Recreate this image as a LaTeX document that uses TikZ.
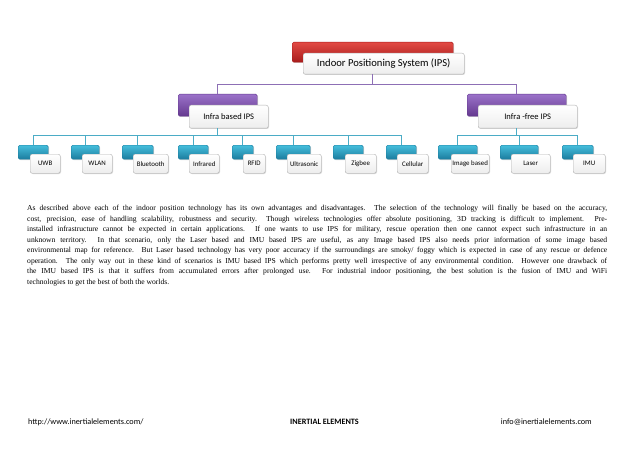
\documentclass[tikz,border=0pt]{standalone}
\usepackage{fontspec}
\setmainfont{Liberation Serif}
\newfontfamily\calib{Carlito}
\usetikzlibrary{shadows}
\definecolor{redA}{HTML}{E24A44}
\definecolor{redB}{HTML}{A81C1C}
\definecolor{purA}{HTML}{9B72C9}
\definecolor{purB}{HTML}{64398F}
\definecolor{tealA}{HTML}{45BEDC}
\definecolor{tealB}{HTML}{1B7C9E}
\definecolor{purline}{HTML}{8D6FB5}
\definecolor{cyanline}{HTML}{4BACC6}
\begin{document}
\begin{tikzpicture}[x=1pt,y=-1pt,
  sz/.style 2 args={minimum width=#1pt, minimum height=#2pt},
  shad/.style={drop shadow={opacity=0.3,shadow xshift=0.8pt,shadow yshift=-0.8pt}},
  redbox/.style={rounded corners=1.5pt, anchor=north west, inner sep=0, top color=redA, bottom color=redB, draw=redB, shad},
  purbox/.style={rounded corners=1.5pt, anchor=north west, inner sep=0, top color=purA, bottom color=purB, draw=purB, shad},
  tealbox/.style={rounded corners=1.5pt, anchor=north west, inner sep=0, top color=tealA, bottom color=tealB, draw=tealB, shad},
  lbl/.style={rounded corners=2pt, anchor=north west, inner sep=0, draw=black!30, top color=white, bottom color=black!7, shad, align=center},
  pline/.style={draw=purline, line width=0.9pt},
  cline/.style={draw=cyanline, line width=0.9pt}]
\useasboundingbox (0,0) rectangle (638,452);
\fill[white] (0,0) rectangle (638,452);
% top level
\node[redbox, sz={161}{20}] (topb) at (292,42) {};
\node[lbl, sz={161}{21}, font=\calib\fontsize{10.6}{12}\selectfont] (top) at (303,53) {Indoor Positioning System (IPS)};
% second level
\node[purbox, sz={79}{22}] (pl) at (178,94) {};
\node[lbl, sz={79}{23}, font=\calib\fontsize{8.5}{10}\selectfont] (lpl) at (189,105) {Infra based IPS};
\node[purbox, sz={99}{22}] (pr) at (467,94) {};
\node[lbl, sz={99}{23}, font=\calib\fontsize{8.5}{10}\selectfont] (lpr) at (478,105) {Infra -free IPS};
% connectors level 1
\coordinate (h1) at (0,84);
\draw[pline] (topb.south |- top.south) -- (topb.south |- h1);
\draw[pline] (pl.north) |- (pr.north |- h1) -- (pr.north);
% children
\coordinate (h2) at (0,135);
\foreach \n/\tx/\tw/\wx/\ww/\lab in {uwb/18/30/30/30/UWB, wlan/71/28/82/30/WLAN, bt/122/31/133/35/Bluetooth, ir/178/30/189/30/Infrared, rfid/232/21/243/22/RFID, us/276/34/287/34/Ultrasonic, zb/333/30/345/31/Zigbee, cell/386/30/397/31/Cellular, img/438/39/451/38/Image based, laser/500/38/511/39/Laser, imu/562/31/573/32/IMU}{
  \node[tealbox, sz={\tw}{14}] (t\n) at (\tx,145) {};
  \draw[cline] (t\n.north) -- (t\n.north |- h2);
  \node[lbl, sz={\ww}{19}, font=\calib\fontsize{6.9}{8}\selectfont] (l\n) at (\wx,154) {\lab};
}
\draw[cline] (tuwb.north |- h2) -- (tcell.north |- h2);
\draw[cline] (pl.south |- lpl.south) -- (pl.south |- h2);
\draw[cline] (timg.north |- h2) -- (timu.north |- h2);
\draw[cline] (pr.south |- lpr.south) -- (pr.south |- h2);
% paragraph
\node[anchor=north west, inner sep=0, text width=580pt, align=justify, font=\fontsize{7.6}{10.5}\selectfont] (para) at (27,205) {%
As described above each of the indoor position technology has its own advantages and disadvantages. The selection of the technology will finally be based on the accuracy,\linebreak
cost, precision, ease of handling scalability, robustness and security.\ \ Though wireless technologies offer absolute positioning, 3D tracking is difficult to implement. Pre-\linebreak
installed infrastructure cannot be expected in certain applications. If one wants to use IPS for military, rescue operation then one cannot expect such infrastructure in an\linebreak
unknown territory. In that scenario, only the Laser based and IMU based IPS are useful, as any Image based IPS also needs prior information of some image based\linebreak
environmental map for reference. But Laser based technology has very poor accuracy if the surroundings are smoky/ foggy which is expected in case of any rescue or defence\linebreak
operation. The only way out in these kind of scenarios is IMU based IPS which performs pretty well irrespective of any environmental condition. However one drawback of\linebreak
the IMU based IPS is that it suffers from accumulated errors after prolonged use. For industrial indoor positioning, the best solution is the fusion of IMU and WiFi\linebreak
technologies to get the best of both the worlds.};
% footer
\node[anchor=west, inner sep=0, font=\calib\fontsize{8.2}{9}\selectfont] (url) at (28,422) {http://www.inertialelements.com/};
\node[anchor=center, inner sep=0, font=\calib\bfseries\fontsize{8.2}{9}\selectfont] (brand) at (324.5,422) {INERTIAL ELEMENTS};
\node[anchor=east, inner sep=0, font=\calib\fontsize{8.2}{9}\selectfont] (mail) at (592,422) {info@inertialelements.com};
\end{tikzpicture}
\end{document}
